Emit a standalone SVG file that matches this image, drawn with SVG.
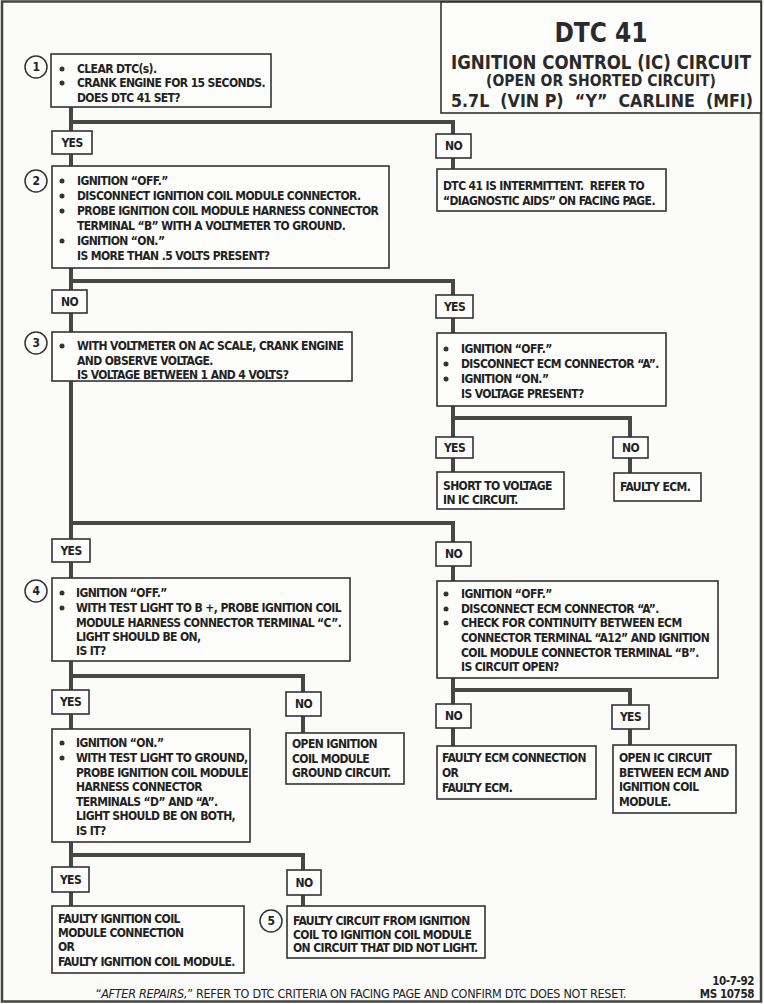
<svg xmlns="http://www.w3.org/2000/svg" width="764" height="1004" viewBox="0 0 764 1004">
<style>
.bg{fill:#fbfbf9}
.frame{fill:none;stroke:#444;stroke-width:2.5}
.box{fill:#fdfdfc;stroke:#333;stroke-width:1.6}
.lbl{fill:#fdfdfc;stroke:#333;stroke-width:1.6}
.t{font-family:"DejaVu Sans Condensed","DejaVu Sans","Liberation Sans",sans-serif;font-weight:bold;font-size:12px;letter-spacing:-0.6px;fill:#222}
.c{text-anchor:middle}
.ti{font-family:"DejaVu Sans Condensed","DejaVu Sans","Liberation Sans",sans-serif;font-weight:bold;fill:#2a2a2a;text-anchor:middle}
.num{fill:#fdfdfc;stroke:#333;stroke-width:1.5}
.dot{fill:#333}
.conn path{fill:none;stroke:#474747;stroke-width:4;stroke-linecap:butt;stroke-linejoin:miter}
.ft{font-family:"DejaVu Sans Condensed","DejaVu Sans","Liberation Sans",sans-serif;font-size:12.5px;letter-spacing:-0.3px;fill:#222}
.ms{font-family:"DejaVu Sans Condensed","DejaVu Sans","Liberation Sans",sans-serif;font-size:11.5px;font-weight:bold;letter-spacing:-0.4px;fill:#222;text-anchor:end}
</style>
<rect class="bg" x="0" y="0" width="764" height="1004"/>
<rect class="frame" x="2" y="1.5" width="759" height="1000"/>

<g id="connectors" class="conn">
<path d="M71,107 V131"/>
<path d="M71,122 H453 V134"/>
<path d="M71,154 V166"/>
<path d="M453,158 V169"/>
<path d="M71,268 V290"/>
<path d="M71,281 H453 V295"/>
<path d="M71,313 V332"/>
<path d="M453,318 V333"/>
<path d="M453,406 V437"/>
<path d="M453,418 H630 V437"/>
<path d="M453,457 V472"/>
<path d="M630,458 V473"/>
<path d="M71,381 V539"/>
<path d="M71,523 H453 V542"/>
<path d="M71,562 V578"/>
<path d="M453,566 V581"/>
<path d="M71,661 V690"/>
<path d="M71,676 H303 V692"/>
<path d="M453,678 V704"/>
<path d="M453,690 H630 V705"/>
<path d="M71,714 V729"/>
<path d="M303,716 V733"/>
<path d="M453,728 V746"/>
<path d="M630,729 V745"/>
<path d="M71,842 V867"/>
<path d="M71,855 H303 V870"/>
<path d="M71,892 V906"/>
<path d="M303,895 V906"/>
</g>

<g id="title">
<rect class="box" x="441" y="2" width="320" height="111"/>
<text class="ti" x="601" y="42" font-size="26">DTC 41</text>
<text class="ti" x="601" y="69" font-size="19" textLength="300" lengthAdjust="spacingAndGlyphs">IGNITION CONTROL (IC) CIRCUIT</text>
<text class="ti" x="601" y="86" font-size="16" textLength="230" lengthAdjust="spacingAndGlyphs">(OPEN OR SHORTED CIRCUIT)</text>
<text class="ti" transform="translate(602,107) scale(1,1.22)" x="0" y="0" font-size="15" textLength="302" lengthAdjust="spacingAndGlyphs" xml:space="preserve">5.7L  (VIN P)  “Y”  CARLINE  (MFI)</text>
</g>

<g id="step1">
<circle class="num" cx="36" cy="67" r="11"/>
<text class="t c" x="36" y="71">1</text>
<rect class="box" x="51" y="54" width="220" height="53"/>
<circle class="dot" cx="62" cy="69" r="2.5"/><circle class="dot" cx="62" cy="83" r="2.5"/>
<text class="t" x="77" y="73">CLEAR DTC(s).</text>
<text class="t" x="77" y="87">CRANK ENGINE FOR 15 SECONDS.</text>
<text class="t" x="77" y="102">DOES DTC 41 SET?</text>
</g>
<g id="yes1"><rect class="lbl" x="52" y="131" width="40" height="23"/><text class="t c" x="72" y="147">YES</text></g>
<g id="no1"><rect class="lbl" x="436" y="134" width="35" height="24"/><text class="t c" x="453.5" y="150">NO</text></g>

<g id="intermittent">
<rect class="box" x="437" y="169" width="229" height="42"/>
<text class="t" x="443" y="190" xml:space="preserve">DTC 41 IS INTERMITTENT.  REFER TO</text>
<text class="t" x="443" y="205">“DIAGNOSTIC AIDS” ON FACING PAGE.</text>
</g>

<g id="step2">
<circle class="num" cx="36" cy="181" r="11"/>
<text class="t c" x="36" y="185">2</text>
<rect class="box" x="52" y="166" width="337" height="102"/>
<circle class="dot" cx="62" cy="181" r="2.5"/><circle class="dot" cx="62" cy="196" r="2.5"/><circle class="dot" cx="62" cy="211" r="2.5"/><circle class="dot" cx="62" cy="241" r="2.5"/>
<text class="t" x="77" y="185">IGNITION “OFF.”</text>
<text class="t" x="77" y="200">DISCONNECT IGNITION COIL MODULE CONNECTOR.</text>
<text class="t" x="77" y="215">PROBE IGNITION COIL MODULE HARNESS CONNECTOR</text>
<text class="t" x="77" y="230">TERMINAL “B” WITH A VOLTMETER TO GROUND.</text>
<text class="t" x="77" y="245">IGNITION “ON.”</text>
<text class="t" x="77" y="260">IS MORE THAN .5 VOLTS PRESENT?</text>
</g>
<g id="no2"><rect class="lbl" x="52" y="290" width="35" height="23"/><text class="t c" x="69.5" y="306">NO</text></g>
<g id="yes2"><rect class="lbl" x="436" y="295" width="37" height="23"/><text class="t c" x="454.5" y="311">YES</text></g>

<g id="step3">
<circle class="num" cx="36" cy="343" r="11"/>
<text class="t c" x="36" y="347">3</text>
<rect class="box" x="52" y="332" width="300" height="49"/>
<circle class="dot" cx="62" cy="346" r="2.5"/>
<text class="t" x="77" y="350">WITH VOLTMETER ON AC SCALE, CRANK ENGINE</text>
<text class="t" x="77" y="365">AND OBSERVE VOLTAGE.</text>
<text class="t" x="77" y="379">IS VOLTAGE BETWEEN 1 AND 4 VOLTS?</text>
</g>

<g id="ecmA">
<rect class="box" x="437" y="333" width="229" height="73"/>
<circle class="dot" cx="446" cy="349" r="2.5"/><circle class="dot" cx="446" cy="364" r="2.5"/><circle class="dot" cx="446" cy="379" r="2.5"/>
<text class="t" x="461" y="353">IGNITION “OFF.”</text>
<text class="t" x="461" y="368">DISCONNECT ECM CONNECTOR “A”.</text>
<text class="t" x="461" y="383">IGNITION “ON.”</text>
<text class="t" x="461" y="398">IS VOLTAGE PRESENT?</text>
</g>
<g id="yesA"><rect class="lbl" x="436" y="437" width="37" height="21"/><text class="t c" x="454.5" y="452">YES</text></g>
<g id="noA"><rect class="lbl" x="613" y="437" width="35" height="21"/><text class="t c" x="630.5" y="452">NO</text></g>
<g id="short">
<rect class="box" x="437" y="472" width="127" height="37"/>
<text class="t" x="443" y="490">SHORT TO VOLTAGE</text>
<text class="t" x="443" y="504">IN IC CIRCUIT.</text>
</g>
<g id="faultyecm">
<rect class="box" x="614" y="473" width="87" height="28"/>
<text class="t" x="620" y="491">FAULTY ECM.</text>
</g>

<g id="yes3"><rect class="lbl" x="52" y="539" width="38" height="23"/><text class="t c" x="71" y="555">YES</text></g>
<g id="no3"><rect class="lbl" x="436" y="542" width="35" height="24"/><text class="t c" x="453.5" y="558">NO</text></g>

<g id="step4">
<circle class="num" cx="36" cy="591" r="11"/>
<text class="t c" x="36" y="595">4</text>
<rect class="box" x="52" y="578" width="298" height="83"/>
<circle class="dot" cx="62" cy="593" r="2.5"/><circle class="dot" cx="62" cy="608" r="2.5"/>
<text class="t" x="76" y="597">IGNITION “OFF.”</text>
<text class="t" x="76" y="612">WITH TEST LIGHT TO B +, PROBE IGNITION COIL</text>
<text class="t" x="76" y="627">MODULE HARNESS CONNECTOR TERMINAL “C”.</text>
<text class="t" x="76" y="641">LIGHT SHOULD BE ON,</text>
<text class="t" x="76" y="655">IS IT?</text>
</g>

<g id="continuity">
<rect class="box" x="437" y="581" width="281" height="97"/>
<circle class="dot" cx="446" cy="594" r="2.5"/><circle class="dot" cx="446" cy="609" r="2.5"/><circle class="dot" cx="446" cy="623" r="2.5"/>
<text class="t" x="461" y="598">IGNITION “OFF.”</text>
<text class="t" x="461" y="613">DISCONNECT ECM CONNECTOR “A”.</text>
<text class="t" x="461" y="627">CHECK FOR CONTINUITY BETWEEN ECM</text>
<text class="t" x="461" y="642">CONNECTOR TERMINAL “A12” AND IGNITION</text>
<text class="t" x="461" y="657">COIL MODULE CONNECTOR TERMINAL “B”.</text>
<text class="t" x="461" y="671">IS CIRCUIT OPEN?</text>
</g>

<g id="yes4"><rect class="lbl" x="52" y="690" width="37" height="24"/><text class="t c" x="70.5" y="706">YES</text></g>
<g id="no4"><rect class="lbl" x="286" y="692" width="35" height="24"/><text class="t c" x="303.5" y="708">NO</text></g>
<g id="noB"><rect class="lbl" x="436" y="704" width="35" height="24"/><text class="t c" x="453.5" y="720">NO</text></g>
<g id="yesB"><rect class="lbl" x="612" y="705" width="37" height="24"/><text class="t c" x="630.5" y="721">YES</text></g>

<g id="step4b">
<rect class="box" x="52" y="729" width="198" height="113"/>
<circle class="dot" cx="62" cy="743" r="2.5"/><circle class="dot" cx="62" cy="758" r="2.5"/>
<text class="t" x="76" y="747">IGNITION “ON.”</text>
<text class="t" x="76" y="762">WITH TEST LIGHT TO GROUND,</text>
<text class="t" x="76" y="777">PROBE IGNITION COIL MODULE</text>
<text class="t" x="76" y="791">HARNESS CONNECTOR</text>
<text class="t" x="76" y="806">TERMINALS “D” AND “A”.</text>
<text class="t" x="76" y="820">LIGHT SHOULD BE ON BOTH,</text>
<text class="t" x="76" y="835">IS IT?</text>
</g>

<g id="openground">
<rect class="box" x="286" y="733" width="118" height="51"/>
<text class="t" x="292" y="748">OPEN IGNITION</text>
<text class="t" x="292" y="763">COIL MODULE</text>
<text class="t" x="292" y="777">GROUND CIRCUIT.</text>
</g>

<g id="ecmconn">
<rect class="box" x="437" y="746" width="159" height="53"/>
<text class="t" x="442" y="762">FAULTY ECM CONNECTION</text>
<text class="t" x="442" y="777">OR</text>
<text class="t" x="442" y="792">FAULTY ECM.</text>
</g>

<g id="openic">
<rect class="box" x="613" y="745" width="123" height="68"/>
<text class="t" x="619" y="762">OPEN IC CIRCUIT</text>
<text class="t" x="619" y="777">BETWEEN ECM AND</text>
<text class="t" x="619" y="791">IGNITION COIL</text>
<text class="t" x="619" y="806">MODULE.</text>
</g>

<g id="yes5"><rect class="lbl" x="52" y="867" width="37" height="25"/><text class="t c" x="70.5" y="884">YES</text></g>
<g id="no5"><rect class="lbl" x="287" y="870" width="34" height="25"/><text class="t c" x="304" y="887">NO</text></g>

<g id="faultymodule">
<rect class="box" x="52" y="906" width="192" height="67"/>
<text class="t" x="58" y="923">FAULTY IGNITION COIL</text>
<text class="t" x="58" y="937">MODULE CONNECTION</text>
<text class="t" x="58" y="951">OR</text>
<text class="t" x="58" y="966">FAULTY IGNITION COIL MODULE.</text>
</g>

<g id="step5">
<circle class="num" cx="271" cy="921" r="11"/>
<text class="t c" x="271" y="925">5</text>
<rect class="box" x="287" y="906" width="198" height="52"/>
<text class="t" x="293" y="925">FAULTY CIRCUIT FROM IGNITION</text>
<text class="t" x="293" y="939">COIL TO IGNITION COIL MODULE</text>
<text class="t" x="293" y="952">ON CIRCUIT THAT DID NOT LIGHT.</text>
</g>

<g id="footer">
<text class="ft" x="361" y="998" text-anchor="middle">“<tspan font-style="italic">AFTER REPAIRS,</tspan>” REFER TO DTC CRITERIA ON FACING PAGE AND CONFIRM DTC DOES NOT RESET.</text>
<text class="ms" x="754" y="985">10-7-92</text>
<text class="ms" x="754" y="998">MS 10758</text>
</g>
</svg>
